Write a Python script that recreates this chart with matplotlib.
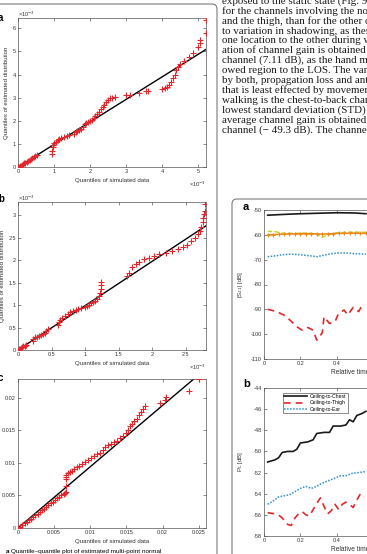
#!/usr/bin/env python3

import matplotlib
matplotlib.use('Agg')
import matplotlib.pyplot as plt
from matplotlib.patches import FancyBboxPatch
from matplotlib.transforms import IdentityTransform

W, H = 367, 554

plt.rcParams.update({
    'font.family': ['Liberation Sans', 'DejaVu Sans'],
    'axes.unicode_minus': False,
    'axes.linewidth': 0.5,
    'lines.linewidth': 1.0,
})

# ---- QQ plot a (both axes in units of 1e-3) ----
qq_a_sim = [0, 0.03, 0.06, 0.1, 0.13, 0.17, 0.2, 0.24, 0.28, 0.32, 0.36, 0.4, 0.44, 0.48, 0.52,
            0.95, 0.95, 0.96, 0.97, 1.0, 1.05, 1.1, 1.15, 1.2, 1.28, 1.36, 1.42, 1.55, 1.6, 1.65,
            1.7, 1.75, 1.8, 1.85, 1.9, 1.95, 2.0, 2.05, 2.1, 2.15, 2.2, 2.25, 2.3, 2.35, 2.4,
            2.45, 2.5, 2.55, 2.6, 2.7,
            3.0, 3.1, 3.35, 3.55, 3.62, 4.0, 4.08, 4.15, 4.2, 4.25, 4.3, 4.35, 4.4, 4.45, 4.5,
            4.6, 4.75, 4.87, 5.0, 5.05, 5.06, 5.22, 5.22]
qq_a_est = [0, 0.02, 0.05, 0.09, 0.12, 0.16, 0.19, 0.23, 0.27, 0.31, 0.35, 0.39, 0.43, 0.47, 0.51,
            0.55, 0.7, 0.85, 0.95, 1.05, 1.1, 1.15, 1.2, 1.25, 1.3, 1.35, 1.38, 1.45, 1.5, 1.55,
            1.6, 1.65, 1.75, 1.85, 1.9, 1.95, 2.0, 2.05, 2.1, 2.2, 2.3, 2.4, 2.5, 2.6, 2.7,
            2.8, 2.9, 2.97, 3.0, 3.03,
            3.1, 3.12, 3.2, 3.28, 3.3, 3.38, 3.42, 3.48, 3.55, 3.7, 3.85, 4.0, 4.2, 4.35, 4.45,
            4.6, 4.75, 4.95, 5.2, 5.35, 5.5, 5.8, 6.35]
qq_a_ref_x = [0, 5.22]
qq_a_ref_y = [0, 5.09]

# ---- QQ plot b (units of 1e-3) ----
qq_b_sim = [0, 0.02, 0.04, 0.06, 0.08, 0.1, 0.12,
            0.22, 0.23, 0.25, 0.28, 0.31, 0.34, 0.37, 0.4, 0.42, 0.44,
            0.6, 0.61, 0.63, 0.66, 0.7, 0.74, 0.78, 0.82, 0.86, 0.9, 0.94,
            1.0, 1.03, 1.06, 1.09, 1.12, 1.15, 1.18, 1.2, 1.22, 1.23, 1.24, 1.24,
            1.62, 1.66, 1.7, 1.75, 1.8, 1.87, 1.95, 2.02, 2.1, 2.2, 2.3, 2.38, 2.45, 2.52,
            2.58, 2.64, 2.68, 2.71, 2.73, 2.75, 2.76, 2.77, 2.78, 2.79]
qq_b_est = [0, 0.02, 0.04, 0.06, 0.08, 0.1, 0.12,
            0.2, 0.25, 0.28, 0.3, 0.32, 0.34, 0.36, 0.38, 0.42, 0.46,
            0.55, 0.62, 0.68, 0.72, 0.76, 0.8, 0.84, 0.87, 0.89, 0.91, 0.93,
            0.95, 0.98, 1.01, 1.04, 1.07, 1.1, 1.14, 1.2, 1.28, 1.36, 1.44, 1.52,
            1.65, 1.72, 1.85, 1.92, 1.97, 2.02, 2.06, 2.1, 2.13, 2.16, 2.2, 2.25, 2.3, 2.35,
            2.42, 2.5, 2.58, 2.66, 2.75, 2.85, 2.95, 3.03, 3.1, 3.25]
qq_b_ref_x = [0, 2.8]
qq_b_ref_y = [0, 2.77]

# ---- QQ plot c (units of 1e-3, plotted in plain units) ----
qq_c_sim = [0, 0.3, 0.6, 0.9, 1.2, 1.5, 1.8, 2.1, 2.4, 2.7, 3.0, 3.3, 3.6, 3.9, 4.2, 4.5, 4.8,
            5.1, 5.4, 5.7, 6.0, 6.3, 6.55, 6.6, 6.62, 6.65, 6.68, 6.7,
            6.9, 7.2, 7.5, 7.8, 8.1, 8.5, 8.9, 9.3, 9.7, 10.1, 10.5, 10.9, 11.3, 11.7, 12.1,
            12.5, 12.9, 13.3, 13.7, 14.1, 14.5, 14.9, 15.2, 15.5, 15.8, 16.1, 16.4, 16.7,
            17.0, 17.3, 17.6,
            19.6, 20.3, 20.4, 23.6, 25.1]
qq_c_est = [0, 0.2, 0.45, 0.7, 0.95, 1.2, 1.45, 1.7, 1.95, 2.2, 2.45, 2.7, 2.95, 3.2, 3.5, 3.8,
            4.05, 4.3, 4.55, 4.8, 5.0, 5.2, 5.35, 5.6, 6.5, 7.5, 7.9, 8.1,
            8.4, 8.6, 8.8, 9.0, 9.3, 9.6, 9.8, 10.1, 10.4, 10.7, 11.0, 11.3, 11.6, 12.0, 12.4,
            12.7, 12.9, 13.2, 13.4, 13.8, 14.2, 14.6, 15.1, 15.6, 16.0, 16.4, 16.8, 17.3,
            17.8, 18.3, 18.8,
            19.2, 19.7, 20.2, 21.0, 22.9]
qq_c_ref_x = [0, 25.1]
qq_c_ref_y = [0, 23.65]

# ---- right figure, panel a: |S21| [dB] ----
s21_chest_t = [0.02, 0.1, 0.2, 0.3, 0.4, 0.5, 0.56]
s21_chest = [-52.1, -51.8, -51.5, -51.3, -51.1, -51.2, -51.5]
s21_orange_t = [0.02, 0.05, 0.08, 0.11, 0.14, 0.17, 0.2, 0.23, 0.26, 0.29, 0.32, 0.35, 0.38,
                0.41, 0.44, 0.47, 0.5, 0.53, 0.56]
s21_orange = [-60.0, -59.9, -59.8, -59.7, -59.6, -59.6, -59.5, -59.5, -59.6, -59.6, -59.7,
              -59.6, -59.5, -59.4, -59.4, -59.3, -59.3, -59.4, -59.4]
s21_green_t = [0.02, 0.06, 0.1, 0.15, 0.2, 0.25, 0.29, 0.32, 0.35, 0.4, 0.45, 0.5, 0.56]
s21_green = [-58.6, -58.7, -59.3, -59.4, -59.4, -59.3, -59.8, -61.0, -60.0, -59.2, -59.0,
             -58.9, -59.0]
s21_ear_t = [0.02, 0.06, 0.1, 0.14, 0.18, 0.22, 0.26, 0.29, 0.33, 0.37, 0.41, 0.45, 0.5, 0.56]
s21_ear = [-68.8, -68.5, -68.0, -67.8, -67.9, -68.2, -68.5, -68.8, -68.2, -67.6, -67.3, -67.3,
           -67.6, -67.8]
s21_thigh_t = [0.02, 0.07, 0.12, 0.18, 0.21, 0.24, 0.27, 0.29, 0.32, 0.33, 0.36, 0.39, 0.41,
               0.44, 0.46, 0.49, 0.52, 0.54]
s21_thigh = [-90.0, -90.9, -92.7, -97.0, -98.4, -97.3, -98.4, -102.4, -99.5, -93.0, -95.7,
             -95.0, -91.6, -90.3, -92.3, -89.2, -90.9, -88.3]

# ---- right figure, panel b: P_L [dB] ----
pl_chest_t = [0.02, 0.06, 0.08, 0.1, 0.13, 0.16, 0.18, 0.2, 0.24, 0.27, 0.29, 0.33, 0.36,
              0.38, 0.42, 0.45, 0.47, 0.49, 0.51, 0.54, 0.56]
pl_chest = [-51.0, -50.8, -50.6, -50.1, -50.0, -50.0, -49.8, -49.2, -49.1, -48.9, -48.3,
            -48.2, -48.2, -47.6, -47.6, -47.5, -47.0, -47.2, -46.6, -46.4, -46.2]
pl_thigh_t = [0.02, 0.06, 0.08, 0.1, 0.13, 0.15, 0.17, 0.19, 0.21, 0.23, 0.25, 0.27, 0.29,
              0.31, 0.33, 0.35, 0.37, 0.39, 0.41, 0.43, 0.45, 0.47, 0.49, 0.51, 0.53, 0.55]
pl_thigh = [-55.8, -55.9, -56.0, -56.3, -56.9, -57.0, -56.3, -55.9, -55.7, -56.0, -56.1,
            -55.5, -54.9, -54.4, -55.2, -55.9, -55.6, -55.0, -55.5, -55.0, -54.8, -55.0,
            -55.3, -54.6, -54.0, -54.3]
pl_ear_t = [0.02, 0.05, 0.08, 0.11, 0.14, 0.17, 0.2, 0.23, 0.26, 0.29, 0.32, 0.35, 0.38,
            0.42, 0.45, 0.48, 0.52, 0.56]
pl_ear = [-55.0, -54.7, -54.3, -54.2, -54.1, -53.8, -53.5, -53.3, -53.5, -53.3, -53.0,
          -52.8, -52.6, -52.3, -52.3, -52.1, -52.0, -51.9]
pl_labels = ['Ceiling-to-Chest', 'Ceiling-to-Thigh', 'Ceiling-to-Ear']

# ---- body text, right column (clipped by page edge) ----
body_lines = [
    "exposed to the static state (Fig. 9a). This is",
    "for the channels involving the nose, the hand",
    "and the thigh, than for the other channels, due",
    "to variation in shadowing, as these move from",
    "one location to the other during walking. Max vari-",
    "ation of channel gain is obtained for the ceiling-to-",
    "channel (7.11 dB), as the hand moves from the shad-",
    "owed region to the LOS. The variation is caused",
    "by both, propagation loss and antenna gain. The one",
    "that is least effected by movement during",
    "walking is the chest-to-back channel, with the",
    "lowest standard deviation (STD) of 0.6 dB. The",
    "average channel gain is obtained for the chest-to-",
    "channel (\u2212 49.3 dB). The channel gain",
]

RED = '#e3262b'
TICK_FS = 4.0
LABEL_FS = 4.4


def px_box(left, top, right, bottom):
    return [left / W, 1 - bottom / H, (right - left) / W, (bottom - top) / H]


def style_axes(ax):
    ax.tick_params(direction='in', top=True, right=True, length=2.0, width=0.4,
                   labelsize=TICK_FS, pad=1.5, colors='#333333')
    for s in ax.spines.values():
        s.set_linewidth(0.5)
        s.set_color('#555555')


def draw_qq(fig, box, sim, est, ref_x, ref_y, xlim, ylim, xticks, yticks, xtl, ytl,
            scale=1.0, ylabel=True):
    ax = fig.add_axes(px_box(*box))
    ax.plot([v * scale for v in ref_x], [v * scale for v in ref_y], color='black', lw=1.0, zorder=2)
    ax.plot([v * scale for v in sim], [v * scale for v in est], '+', color=RED,
            ms=3.8, mew=0.8, zorder=3)
    ax.set_xlim(*xlim)
    ax.set_ylim(*ylim)
    ax.set_xticks(xticks)
    ax.set_xticklabels(xtl)
    ax.set_yticks(yticks)
    ax.set_yticklabels(ytl)
    style_axes(ax)
    ax.set_xlabel('Quantiles of simulated data', fontsize=LABEL_FS, labelpad=2.5, color='#333333')
    if ylabel:
        ax.set_ylabel('Quantiles of estimated distribution', fontsize=LABEL_FS, labelpad=2.5,
                      color='#333333')
    return ax


def main():
    fig = plt.figure(figsize=(W / 100, H / 100), dpi=100)

    # page frames of the two figures
    fig.add_artist(FancyBboxPatch((-20, -20), 237, 570, boxstyle='round,pad=0,rounding_size=5',
                                  fc='none', ec='#7a7a7a', lw=0.8, transform=IdentityTransform()))
    fig.add_artist(FancyBboxPatch((232, -20), 170, 375, boxstyle='round,pad=0,rounding_size=5',
                                  fc='none', ec='#7a7a7a', lw=0.8, transform=IdentityTransform()))

    e3 = '\u00d710$^{-3}$'

    ax1 = draw_qq(fig, (18, 18, 206, 167), qq_a_sim, qq_a_est, qq_a_ref_x, qq_a_ref_y,
                  (0, 5.22), (0, 6.45), range(6), range(7),
                  [str(i) for i in range(6)], [str(i) for i in range(7)])
    ax2 = draw_qq(fig, (18, 202, 206, 350), qq_b_sim, qq_b_est, qq_b_ref_x, qq_b_ref_y,
                  (0, 2.8), (0, 3.3), [0, 0.5, 1, 1.5, 2, 2.5], [0, 0.5, 1, 1.5, 2, 2.5, 3],
                  ['0', '0.5', '1', '1.5', '2', '2.5'], ['0', '0.5', '1', '1.5', '2', '2.5', '3'])
    draw_qq(fig, (18, 379, 206, 528), qq_c_sim, qq_c_est, qq_c_ref_x, qq_c_ref_y,
            (0, 0.026), (0, 0.0229), [0, 0.005, 0.01, 0.015, 0.02, 0.025],
            [0, 0.005, 0.01, 0.015, 0.02],
            ['0', '0.005', '0.01', '0.015', '0.02', '0.025'],
            ['0', '0.005', '0.01', '0.015', '0.02'], scale=1e-3, ylabel=False)

    for ax, top, bottom in [(ax1, 18, 167), (ax2, 202, 350)]:
        fig.text(18 / W, 1 - (top - 4) / H, e3, fontsize=TICK_FS, color='#333333',
                 ha='left', va='center')
        fig.text(206 / W, 1 - (bottom + 17) / H, e3, fontsize=TICK_FS, color='#333333',
                 ha='right', va='center')

    for letter, y in [('a', 18), ('b', 199), ('c', 378)]:
        fig.text(-2 / W, 1 - y / H, letter, fontsize=7, fontweight='bold', ha='left', va='center')

    fig.text(6 / W, 1 - 549 / H, 'a', fontsize=4.6, fontweight='bold', ha='left', va='top')
    fig.text(11 / W, 1 - 549 / H, 'Quantile\u2013quantile plot of estimated multi-point normal',
             fontsize=4.6, ha='left', va='top')

    # right column body text
    for i, line in enumerate(body_lines):
        y = 1.2 if i == 0 else 11 + 9.9 * (i - 1)
        fig.text(222 / W, 1 - y / H, line, fontsize=7.9, ha='left', va='center',
                 family=['Liberation Serif', 'DejaVu Serif'], color='#1a1a1a')

    # ---- right figure panel a ----
    axa = fig.add_axes(px_box(264, 210, 446, 359))
    axa.plot(s21_chest_t, s21_chest, color='#1a1a1a', lw=1.2)
    axa.plot(s21_green_t, s21_green, color='#c9d431', lw=1.1, ls=(0, (3, 1.5)))
    axa.plot(s21_orange_t, s21_orange, color='#e88a1c', lw=1.1, marker='+', ms=3.2, mew=0.8)
    axa.plot(s21_ear_t, s21_ear, color='#2f8ecf', lw=1.1, ls=(0, (1, 1)))
    axa.plot(s21_thigh_t, s21_thigh, color=RED, lw=1.2, ls=(0, (4, 3)))
    axa.set_xlim(0, 1)
    axa.set_ylim(-110, -50)
    axa.set_xticks([0, 0.2, 0.4, 0.6, 0.8, 1])
    axa.set_xticklabels(['0', '0.2', '0.4', '0.6', '0.8', '1'])
    axa.set_yticks(range(-110, -49, 10))
    style_axes(axa)
    axa.set_xlabel('Relative time [s]', fontsize=LABEL_FS + 0.4, labelpad=2, color='#333333')
    axa.set_ylabel('|S$_{21}$| [dB]', fontsize=LABEL_FS, labelpad=4, color='#333333')
    fig.text(243 / W, 1 - 207 / H, 'a', fontsize=8, fontweight='bold', ha='left', va='center')

    # ---- right figure panel b ----
    axb = fig.add_axes(px_box(264, 388, 446, 536))
    axb.plot(pl_chest_t, pl_chest, color='#1a1a1a', lw=1.2, label=pl_labels[0])
    axb.plot(pl_thigh_t, pl_thigh, color=RED, lw=1.2, ls=(0, (4, 3)), label=pl_labels[1])
    axb.plot(pl_ear_t, pl_ear, color='#2f8ecf', lw=1.1, ls=(0, (1, 1)), label=pl_labels[2])
    axb.set_xlim(0, 1)
    axb.set_ylim(-58, -44)
    axb.set_xticks([0, 0.2, 0.4, 0.6, 0.8, 1])
    axb.set_xticklabels(['0', '0.2', '0.4', '0.6', '0.8', '1'])
    axb.set_yticks(range(-58, -43, 2))
    style_axes(axb)
    axb.set_xlabel('Relative time [s]', fontsize=LABEL_FS + 0.4, labelpad=2, color='#333333')
    axb.set_ylabel('P$_{\\rm L}$ [dB]', fontsize=LABEL_FS, labelpad=6, color='#333333')
    leg = axb.legend(loc='upper left', bbox_to_anchor=(0.09, 0.985), fontsize=3.6,
                     handlelength=4.5, handletextpad=0.6, borderpad=0.3, labelspacing=0.25,
                     fancybox=False, framealpha=1)
    leg.get_frame().set_linewidth(0.4)
    leg.get_frame().set_edgecolor('#333333')
    fig.text(243 / W, 1 - 384 / H, 'b', fontsize=8, fontweight='bold', ha='left', va='center')

    fig.savefig('out.png', dpi=100)
    plt.close(fig)


if __name__ == "__main__":
    main()
